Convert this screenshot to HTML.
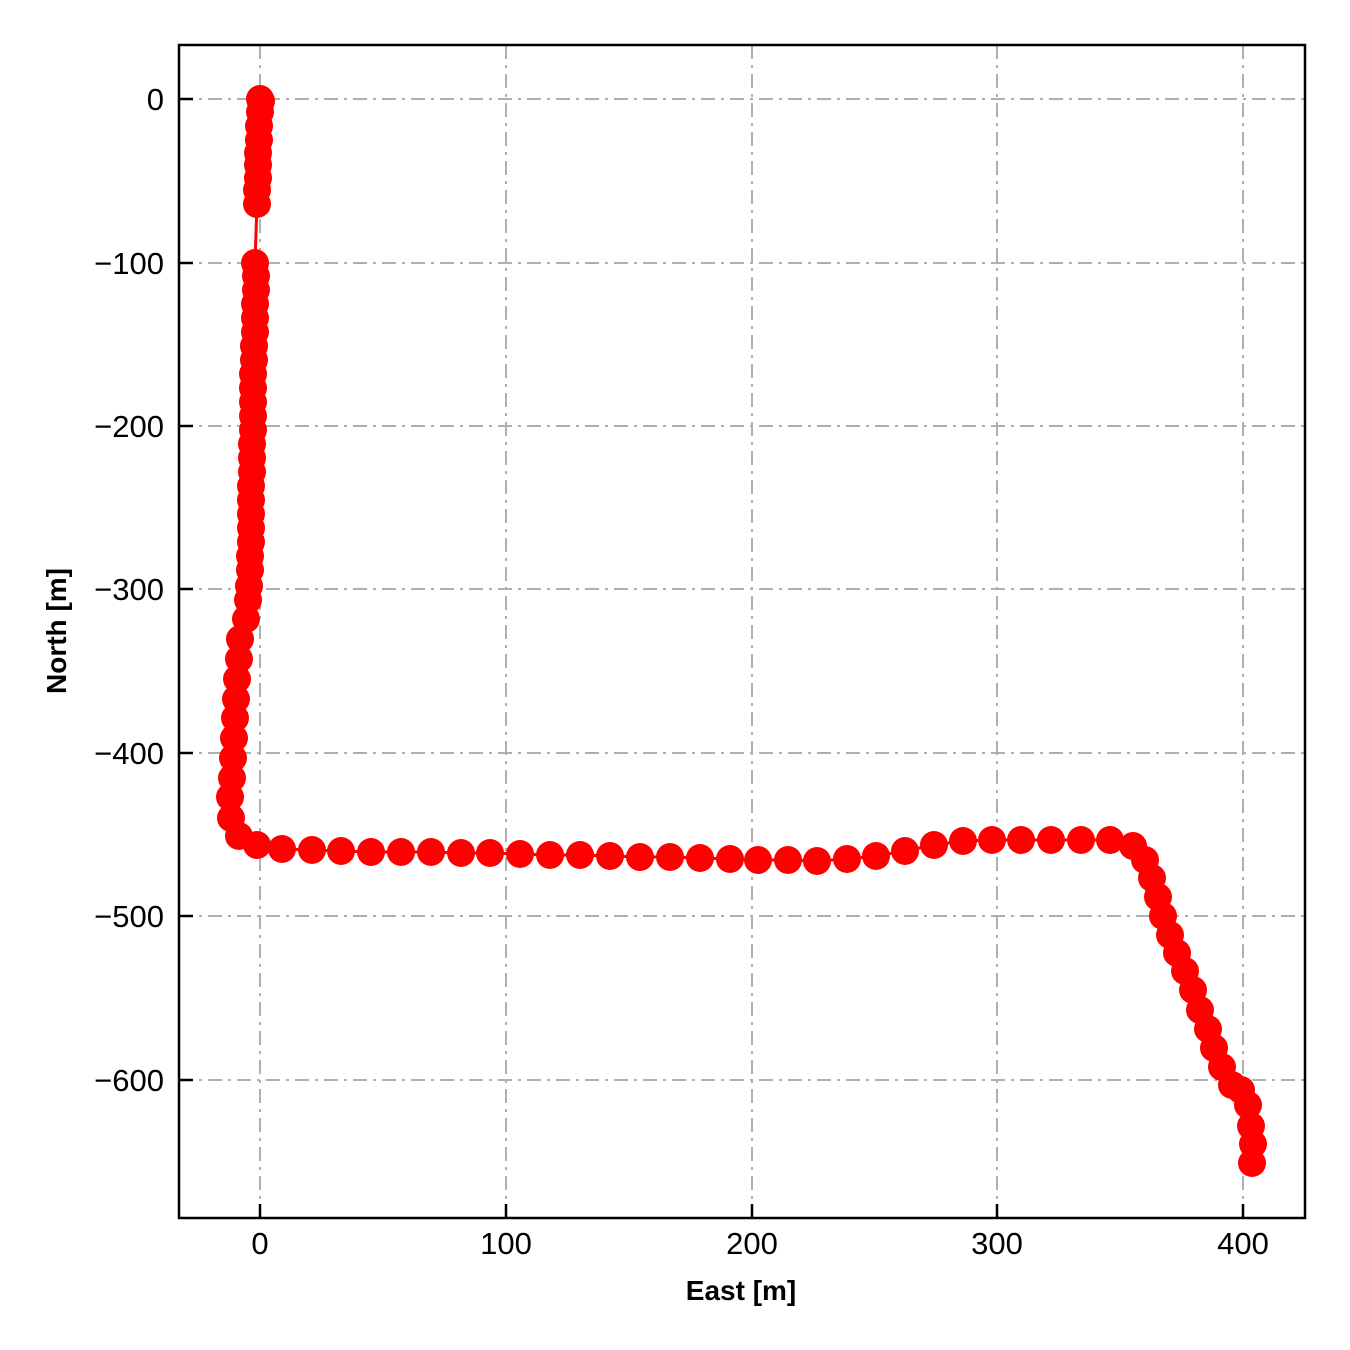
<!DOCTYPE html>
<html><head><meta charset="utf-8"><style>body{margin:0;background:#fff}svg{display:block}</style></head><body>
<svg width="1350" height="1350" xmlns="http://www.w3.org/2000/svg" font-family="Liberation Sans, Arial, sans-serif">
<g stroke="#b0b0b0" stroke-width="2" stroke-dasharray="14,6,3,6">
<line x1="260" y1="45" x2="260" y2="1218"/><line x1="506" y1="45" x2="506" y2="1218"/><line x1="752" y1="45" x2="752" y2="1218"/><line x1="997" y1="45" x2="997" y2="1218"/><line x1="1243" y1="45" x2="1243" y2="1218"/>
<line x1="179" y1="99" x2="1305" y2="99"/><line x1="179" y1="263" x2="1305" y2="263"/><line x1="179" y1="426" x2="1305" y2="426"/><line x1="179" y1="589" x2="1305" y2="589"/><line x1="179" y1="753" x2="1305" y2="753"/><line x1="179" y1="916" x2="1305" y2="916"/><line x1="179" y1="1080" x2="1305" y2="1080"/>
</g>
<polyline fill="none" stroke="red" stroke-width="3" points="260,99 261,101 260,112 259,126 259,140 258,153 258,165 258,178 257,190 257,204 255,263 256,276 256,290 255,304 255,318 255,332 254,346 254,360 253,374 253,388 253,402 253,416 253,430 252,444 252,458 252,472 251,486 251,500 251,514 251,528 251,542 250,556 250,570 249,586 248,600 246,619 240,639 239,659 237,679 236,699 235,718 234,738 233,758 232,778 230,797 231,818 239,836 257,845 282,849 312,850 341,851 371,852 401,852 431,852 461,853 490,853 520,854 550,855 580,855 610,856 640,857 670,857 700,858 730,859 758,860 788,860 817,861 847,859 876,856 905,851 934,845 963,841 992,840 1021,840 1051,840 1081,840 1110,840 1133,846 1145,860 1152,878 1158,897 1163,916 1170,935 1177,953 1185,971 1193,990 1200,1010 1208,1029 1214,1048 1222,1067 1232,1085 1241,1090 1248,1105 1251,1126 1253,1144 1252,1163"/>
<g fill="red">
<circle cx="260" cy="99" r="14"/><circle cx="261" cy="101" r="14"/><circle cx="260" cy="112" r="14"/><circle cx="259" cy="126" r="14"/><circle cx="259" cy="140" r="14"/><circle cx="258" cy="153" r="14"/><circle cx="258" cy="165" r="14"/><circle cx="258" cy="178" r="14"/><circle cx="257" cy="190" r="14"/><circle cx="257" cy="204" r="14"/>
<circle cx="255" cy="263" r="14"/><circle cx="256" cy="276" r="14"/><circle cx="256" cy="290" r="14"/><circle cx="255" cy="304" r="14"/><circle cx="255" cy="318" r="14"/><circle cx="255" cy="332" r="14"/><circle cx="254" cy="346" r="14"/><circle cx="254" cy="360" r="14"/><circle cx="253" cy="374" r="14"/><circle cx="253" cy="388" r="14"/><circle cx="253" cy="402" r="14"/><circle cx="253" cy="416" r="14"/><circle cx="253" cy="430" r="14"/><circle cx="252" cy="444" r="14"/><circle cx="252" cy="458" r="14"/><circle cx="252" cy="472" r="14"/><circle cx="251" cy="486" r="14"/><circle cx="251" cy="500" r="14"/><circle cx="251" cy="514" r="14"/><circle cx="251" cy="528" r="14"/><circle cx="251" cy="542" r="14"/><circle cx="250" cy="556" r="14"/><circle cx="250" cy="570" r="14"/><circle cx="249" cy="586" r="14"/><circle cx="248" cy="600" r="14"/><circle cx="246" cy="619" r="14"/><circle cx="240" cy="639" r="14"/><circle cx="239" cy="659" r="14"/><circle cx="237" cy="679" r="14"/><circle cx="236" cy="699" r="14"/><circle cx="235" cy="718" r="14"/><circle cx="234" cy="738" r="14"/><circle cx="233" cy="758" r="14"/><circle cx="232" cy="778" r="14"/><circle cx="230" cy="797" r="14"/><circle cx="231" cy="818" r="14"/><circle cx="239" cy="836" r="14"/><circle cx="257" cy="845" r="14"/><circle cx="282" cy="849" r="14"/><circle cx="312" cy="850" r="14"/><circle cx="341" cy="851" r="14"/><circle cx="371" cy="852" r="14"/><circle cx="401" cy="852" r="14"/><circle cx="431" cy="852" r="14"/><circle cx="461" cy="853" r="14"/><circle cx="490" cy="853" r="14"/><circle cx="520" cy="854" r="14"/><circle cx="550" cy="855" r="14"/><circle cx="580" cy="855" r="14"/><circle cx="610" cy="856" r="14"/><circle cx="640" cy="857" r="14"/><circle cx="670" cy="857" r="14"/><circle cx="700" cy="858" r="14"/><circle cx="730" cy="859" r="14"/><circle cx="758" cy="860" r="14"/><circle cx="788" cy="860" r="14"/><circle cx="817" cy="861" r="14"/><circle cx="847" cy="859" r="14"/><circle cx="876" cy="856" r="14"/><circle cx="905" cy="851" r="14"/><circle cx="934" cy="845" r="14"/><circle cx="963" cy="841" r="14"/><circle cx="992" cy="840" r="14"/><circle cx="1021" cy="840" r="14"/><circle cx="1051" cy="840" r="14"/><circle cx="1081" cy="840" r="14"/><circle cx="1110" cy="840" r="14"/><circle cx="1133" cy="846" r="14"/><circle cx="1145" cy="860" r="14"/><circle cx="1152" cy="878" r="14"/><circle cx="1158" cy="897" r="14"/><circle cx="1163" cy="916" r="14"/><circle cx="1170" cy="935" r="14"/><circle cx="1177" cy="953" r="14"/><circle cx="1185" cy="971" r="14"/><circle cx="1193" cy="990" r="14"/><circle cx="1200" cy="1010" r="14"/><circle cx="1208" cy="1029" r="14"/><circle cx="1214" cy="1048" r="14"/><circle cx="1222" cy="1067" r="14"/><circle cx="1232" cy="1085" r="14"/><circle cx="1241" cy="1090" r="14"/><circle cx="1248" cy="1105" r="14"/><circle cx="1251" cy="1126" r="14"/><circle cx="1253" cy="1144" r="14"/><circle cx="1252" cy="1163" r="14"/>
</g>
<rect x="179" y="45" width="1126" height="1173" fill="none" stroke="#000" stroke-width="2.5"/>
<g stroke="#000" stroke-width="2.5">
<line x1="260" y1="1218" x2="260" y2="1204"/><line x1="506" y1="1218" x2="506" y2="1204"/><line x1="752" y1="1218" x2="752" y2="1204"/><line x1="997" y1="1218" x2="997" y2="1204"/><line x1="1243" y1="1218" x2="1243" y2="1204"/>
<line x1="179" y1="99" x2="193" y2="99"/><line x1="179" y1="263" x2="193" y2="263"/><line x1="179" y1="426" x2="193" y2="426"/><line x1="179" y1="589" x2="193" y2="589"/><line x1="179" y1="753" x2="193" y2="753"/><line x1="179" y1="916" x2="193" y2="916"/><line x1="179" y1="1080" x2="193" y2="1080"/>
</g>
<g font-size="31" text-anchor="middle" fill="#000">
<text x="260" y="1254">0</text><text x="506" y="1254">100</text><text x="752" y="1254">200</text><text x="997" y="1254">300</text><text x="1243" y="1254">400</text>
</g>
<g font-size="31" text-anchor="end" fill="#000">
<text x="164" y="110">0</text><text x="164" y="274">−100</text><text x="164" y="437">−200</text><text x="164" y="600">−300</text><text x="164" y="764">−400</text><text x="164" y="927">−500</text><text x="164" y="1091">−600</text>
</g>
<text x="741" y="1300" font-size="28" font-weight="bold" text-anchor="middle">East [m]</text>
<text transform="translate(66,631) rotate(-90)" font-size="28" font-weight="bold" text-anchor="middle">North [m]</text>
</svg>
</body></html>
